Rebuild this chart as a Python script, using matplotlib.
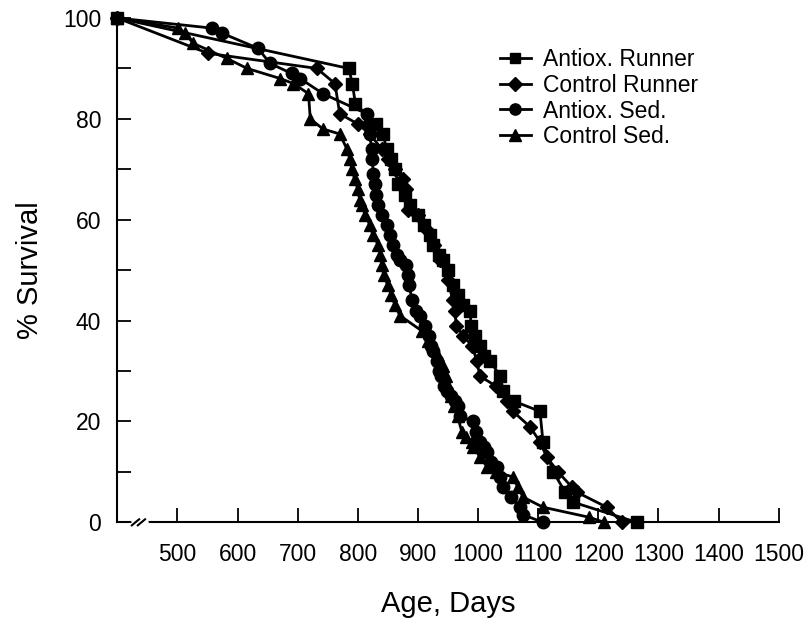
import matplotlib.pyplot as plt
from matplotlib.ticker import MultipleLocator

plt.rcParams['font.family'] = ['Liberation Sans', 'DejaVu Sans']

# Antiox. Runner (squares)
ar_days = [400, 785, 791, 796, 830, 842, 848, 855, 862, 867, 878, 887, 900, 910,
           920, 925, 935, 942, 950, 958, 966, 975, 986, 989, 995, 1003, 1010, 1020,
           1037, 1042, 1060, 1103, 1108, 1125, 1145, 1158, 1264]
ar_surv = [100, 90, 87, 83, 79, 77, 74, 72, 70, 67, 65, 63, 61, 59,
           57, 55, 53, 52, 50, 47, 45, 43, 42, 39, 37, 35, 33, 32,
           29, 26, 24, 22, 16, 10, 6, 4, 0]

# Control Runner (diamonds)
cr_days = [400, 551, 732, 762, 770, 800, 820, 840, 850, 862, 875, 881, 883, 900,
           915, 926, 937, 950, 958, 961, 964, 975, 990, 998, 1003, 1030, 1048, 1058,
           1086, 1103, 1114, 1133, 1156, 1164, 1214, 1239]
cr_surv = [100, 93, 90, 87, 81, 79, 77, 74, 72, 70, 68, 66, 62, 61,
           58, 55, 52, 48, 44, 42, 39, 37, 35, 32, 29, 27, 24, 22,
           19, 16, 13, 10, 7, 6, 3, 0]

# Antiox. Sed. (circles)
as_days = [400, 557, 574, 634, 654, 690, 704, 742, 815, 818, 820, 823, 824, 826,
           829, 831, 834, 840, 848, 854, 859, 865, 870, 881, 883, 886, 890, 896,
           903, 912, 918, 922, 925, 931, 935, 939, 944, 948, 955, 961, 966, 970,
           992, 997, 1003, 1010, 1015, 1022, 1031, 1036, 1042, 1055, 1070, 1075, 1108]
as_surv = [100, 98, 97, 94, 91, 89, 88, 85, 81, 79, 77, 74, 72, 69,
           67, 65, 63, 61, 59, 57, 55, 53, 52, 51, 49, 47, 44, 42,
           41, 39, 37, 35, 34, 32, 30, 29, 27, 26, 25, 24, 23, 21,
           20, 18, 16, 15, 14, 12, 11, 9, 7, 5, 3, 1.5, 0]

# Control Sed. (triangles)
cs_days = [400, 501, 513, 526, 582, 616, 671, 693, 718, 721, 742, 770, 782, 787,
           790, 795, 800, 803, 807, 812, 820, 825, 834, 837, 840, 843, 850, 856,
           862, 870, 906, 916, 925, 933, 942, 947, 950, 955, 960, 966, 973, 980,
           990, 992, 1003, 1015, 1030, 1058, 1066, 1075, 1108, 1185, 1210]
cs_surv = [100, 98, 97, 95, 92, 90, 88, 87, 85, 80, 78, 77, 74, 72,
           70, 68, 66, 64, 63, 61, 59, 57, 55, 53, 51, 49, 47, 45,
           43, 41, 38, 36, 35, 33, 31, 29, 27, 25, 23, 21, 18, 17,
           16, 15, 13, 11, 10, 9, 7, 5, 3, 1, 0]

x_ticks = [500, 600, 700, 800, 900, 1000, 1100, 1200, 1300, 1400, 1500]
y_ticks = [0, 20, 40, 60, 80, 100]

fig = plt.figure(figsize=(8.06, 6.23), dpi=100)
ax = fig.add_axes([0.1455, 0.1616, 0.8206, 0.8095])

style = dict(color='black', lw=2, clip_on=False, zorder=3)
ax.plot(ar_days, ar_surv, marker='s', ms=8, label='Antiox. Runner', **style)
ax.plot(cr_days, cr_surv, marker='D', ms=7.5, label='Control Runner', **style)
ax.plot(as_days, as_surv, marker='o', ms=9, label='Antiox. Sed.', **style)
ax.plot(cs_days, cs_surv, marker='^', ms=9, label='Control Sed.', **style)

ax.set_xlim(400, 1500)
ax.set_ylim(0, 100)
ax.spines['top'].set_visible(False)
ax.spines['right'].set_visible(False)
for s in ['left', 'bottom']:
    ax.spines[s].set_linewidth(1.5)

ax.set_xticks(x_ticks)
ax.set_yticks(y_ticks)
ax.yaxis.set_minor_locator(MultipleLocator(10))
ax.tick_params(axis='both', which='both', direction='in', length=10, width=1.3,
               labelsize=16.5)
ax.tick_params(axis='y', which='both', pad=11.5)
ax.tick_params(axis='x', pad=15)

ax.set_xlabel('Age, Days', fontsize=21, labelpad=17)
ax.set_ylabel('% Survival', fontsize=21, labelpad=14)

# axis break marks
ax.plot([0.026, 0.043], [-0.002, 0.002], transform=ax.transAxes, color='white',
        lw=4, clip_on=False, zorder=4)
for x0 in [0.022, 0.031]:
    ax.plot([x0, x0 + 0.011], [-0.006, 0.006], transform=ax.transAxes,
            color='black', lw=1.5, clip_on=False, zorder=5)

ax.legend(loc='upper left', bbox_to_anchor=(0.578, 0.9405), frameon=False,
          borderpad=0, borderaxespad=0, handlelength=1.35, handletextpad=0.55,
          labelspacing=0.12, fontsize=16.5, markerscale=0.9)

fig.savefig('out.png', dpi=100)
